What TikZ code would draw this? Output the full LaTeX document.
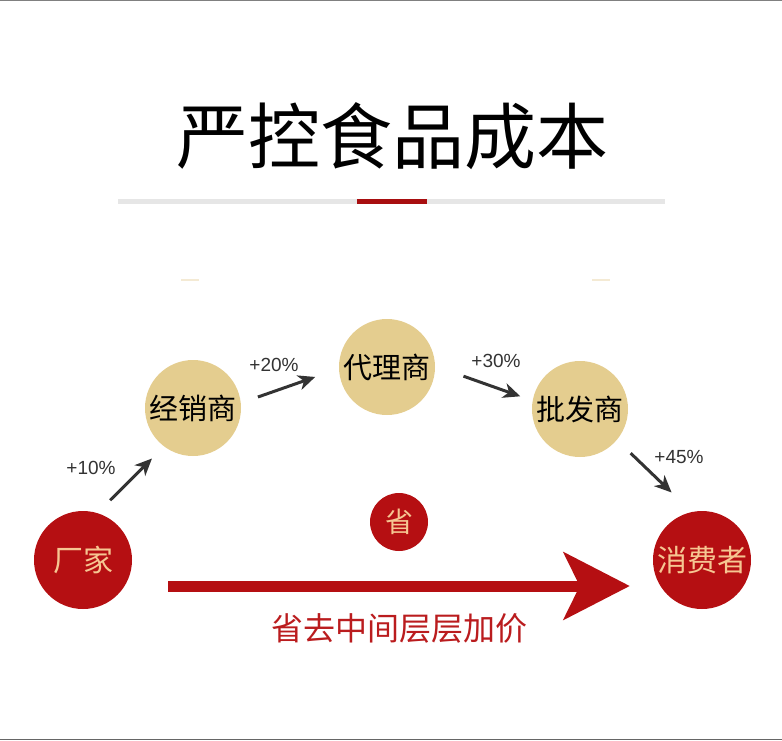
\documentclass[tikz,border=0pt]{standalone}
\usepackage{fontspec}
\newfontfamily\cjk{Noto Sans CJK SC}
\newfontfamily\latin{Liberation Sans}
\usetikzlibrary{arrows.meta,positioning}
\definecolor{deepred}{RGB}{181,15,18}
\definecolor{sandtan}{RGB}{228,205,143}
\definecolor{peach}{RGB}{246,198,146}
\definecolor{arrowgray}{RGB}{51,51,51}
\definecolor{rulegray}{RGB}{230,230,230}
\definecolor{rulered}{RGB}{168,14,16}
\definecolor{savered}{RGB}{186,28,30}
\definecolor{faintgold}{RGB}{244,234,212}

\begin{document}
\begin{tikzpicture}[x=1pt, y=-1pt, font=\cjk]
\tikzstyle{redstop}=[circle, fill=deepred, minimum size=98pt, inner sep=0pt, text=peach, font=\cjk\fontsize{30}{30}\selectfont]
\tikzstyle{midstop}=[circle, fill=sandtan, minimum size=96pt, inner sep=0pt, text=black, font=\cjk\fontsize{29}{29}\selectfont]
\tikzstyle{markup}=[draw=arrowgray, line width=3pt, -{Stealth[length=17pt, width=15pt, inset=5pt]}]
\tikzstyle{rate}=[text=arrowgray, inner sep=0pt, font=\latin\fontsize{19}{19}\selectfont]
\useasboundingbox (0,0) rectangle (782,740);
\draw[gray, line width=1.5pt] (0,0.5) -- (782,0.5);
\draw[gray!80!black, line width=1.5pt] (0,739.5) -- (782,739.5);
% heading
\node (title) at (392,136) {\fontsize{72}{72}\selectfont 严控食品成本};
\draw[rulegray, line width=5pt] (118,201) -- (665,201);
\draw[rulered, line width=5pt] (357,201) -- (427,201);
\draw[faintgold, line width=1.5pt] (181,280) -- (199,280);
\draw[faintgold, line width=1.5pt] (592,280) -- (610,280);
% chain
\node[redstop] (factory) at (83,560) {厂家};
\node[midstop] (dealer) at (193,408) {经销商};
\node[midstop] (agent) at (387,367) {代理商};
\node[midstop] (wholesale) at (580,409) {批发商};
\node[redstop] (consumer) at (702,560) {消费者};
\node[circle, fill=deepred, minimum size=58pt, inner sep=0pt, text=peach, font=\cjk\fontsize{28}{28}\selectfont] (save) at (399,522) {省};
\draw[markup, shorten <=18pt, shorten >=17pt] (factory.73) -- (dealer.233);
\draw[markup, shorten <=18pt, shorten >=25pt] (dealer.6) -- (agent.182);
\draw[markup, shorten <=30pt, shorten >=13pt] (agent.1) -- (wholesale.170);
\draw[markup, shorten <=19pt, shorten >=28pt] (wholesale.320) -- (consumer.102);
\node[rate] (rate10) at (91,468) {+10\%};
\node[rate] (rate20) at (274,365) {+20\%};
\node[rate] (rate30) at (496,361) {+30\%};
\node[rate] (rate45) at (679,457) {+45\%};
% direct route
\draw[deepred, line width=11pt, -{Stealth[length=66pt, width=67pt, inset=16pt]}]
  ([xshift=36pt, yshift=-26pt]factory.east) -- ([xshift=-23pt, yshift=-26pt]consumer.west);
\node[text=savered, font=\cjk\fontsize{32}{32}\selectfont] (skip) at (399,628) {省去中间层层加价};
\end{tikzpicture}
\end{document}
